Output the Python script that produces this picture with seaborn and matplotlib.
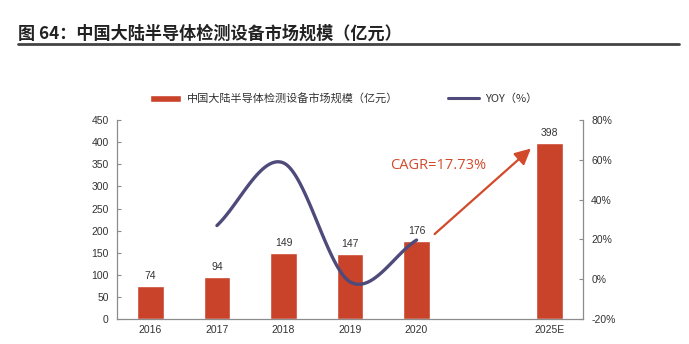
import numpy as np
import pandas as pd
import matplotlib
matplotlib.use("Agg")
import matplotlib.pyplot as plt
import seaborn as sns

# ---- data ----
categories = ["2016", "2017", "2018", "2019", "2020", " ", "2025E"]
bar_years = ["2016", "2017", "2018", "2019", "2020", "2025E"]
market_size = [74, 94, 149, 147, 176, 398]
yoy_years = ["2017", "2018", "2019", "2020"]
yoy_pct = [27.0, 58.5, -1.3, 19.7]
left_ticks = [0, 50, 100, 150, 200, 250, 300, 350, 400, 450]
right_ticks = [-20, 0, 20, 40, 60, 80]
title_text = "图 64：中国大陆半导体检测设备市场规模（亿元）"
bar_label = "中国大陆半导体检测设备市场规模（亿元）"
line_label = "YOY（%）"
cagr_text = "CAGR=17.73%"

BAR_C = "#C9432A"
LINE_C = "#4E4A7A"
TXT_C = "#333333"
AX_C = "#8C8C8C"

sns.set_theme(style="white")
plt.rcParams["font.family"] = ["Noto Sans CJK SC", "DejaVu Sans"]

fig = plt.figure(figsize=(6.89, 3.44), dpi=100)
ax = fig.add_axes([0.170, 0.0727, 0.676, 0.578])

df = pd.DataFrame({"year": bar_years, "value": market_size})
sns.barplot(data=df, x="year", y="value", order=categories, color=BAR_C,
            width=0.4, saturation=1, ax=ax)
ax.set_xlim(-0.5, len(categories) - 0.5)
ax.set_ylim(0, 450)
ax.set_yticks(left_ticks)
ax.set_yticklabels([str(t) for t in left_ticks], fontsize=7.5, color=TXT_C,
                   family=["Liberation Sans"])
ax.set_xticks(range(len(categories)))
ax.set_xticklabels([c.strip() for c in categories], fontsize=7.5, color=TXT_C,
                   family=["Liberation Sans"])
ax.set_xticks(np.arange(0.5, len(categories) - 0.5, 1), minor=True)
ax.tick_params(axis="x", which="major", length=0, pad=4)
ax.tick_params(axis="x", which="minor", direction="in", length=3, color=AX_C, width=0.8)
ax.tick_params(axis="y", direction="in", length=3, color=AX_C, width=0.8, pad=6)
ax.set_xlabel("")
ax.set_ylabel("")
for s in ["top", "right"]:
    ax.spines[s].set_visible(False)
for s in ["left", "bottom"]:
    ax.spines[s].set_color(AX_C)
    ax.spines[s].set_linewidth(0.9)

# bar value labels
for yr, v in zip(bar_years, market_size):
    i = categories.index(yr)
    ax.text(i, v + 12, str(v), ha="center", va="bottom", fontsize=7.5,
            color=TXT_C, family=["Liberation Sans"])

# ---- YOY line on right axis (smoothed rendering) ----
ax2 = ax.twinx()
xs = np.array([categories.index(y) for y in yoy_years], dtype=float)
ys = np.array(yoy_pct, dtype=float)

def catmull_rom(px, py, n=40):
    P = np.column_stack([px, py])
    P = np.vstack([2 * P[0] - P[1], P, 2 * P[-1] - P[-2]])
    out = []
    for k in range(1, len(P) - 2):
        p0, p1, p2, p3 = P[k - 1], P[k], P[k + 1], P[k + 2]
        t = np.linspace(0, 1, n)[:, None]
        seg = 0.5 * ((2 * p1) + (-p0 + p2) * t + (2 * p0 - 5 * p1 + 4 * p2 - p3) * t ** 2
                     + (-p0 + 3 * p1 - 3 * p2 + p3) * t ** 3)
        out.append(seg if k == 1 else seg[1:])
    out = np.vstack(out)
    return out[:, 0], out[:, 1]

sx, sy = catmull_rom(xs, ys)
sns.lineplot(x=sx, y=sy, color=LINE_C, linewidth=2.4, sort=False, ax=ax2)
ax2.set_ylim(-20, 80)
ax2.set_yticks(right_ticks)
ax2.set_yticklabels([f"{t}%" for t in right_ticks], fontsize=7.5, color=TXT_C,
                    family=["Liberation Sans"])
ax2.tick_params(axis="y", direction="in", length=3, color=AX_C, width=0.8, pad=6)
for s in ["top", "left", "bottom"]:
    ax2.spines[s].set_visible(False)
ax2.spines["right"].set_color(AX_C)
ax2.spines["right"].set_linewidth(0.9)
ax2.set_ylabel("")
ax2.set_xlim(-0.5, len(categories) - 0.5)

# CAGR arrow and text
ax.annotate("", xy=(5.75, 390), xytext=(4.24, 188),
            arrowprops=dict(arrowstyle="-|>,head_length=0.8,head_width=0.4",
                            color="#D24A2C", lw=1.6))
ax.text(3.6, 348, cagr_text, fontsize=10.5, color="#D24A2C",
        family=["Open Sans", "DejaVu Sans"], ha="left", va="center")

# legend
from matplotlib.patches import Patch
from matplotlib.lines import Line2D
handles = [Patch(facecolor=BAR_C, label=bar_label),
           Line2D([0], [0], color=LINE_C, lw=2.2, label=line_label)]
leg = fig.legend(handles=handles, loc="center", bbox_to_anchor=(0.499, 0.713),
                 ncol=2, frameon=False, fontsize=8, handlelength=2.8,
                 handleheight=0.6, columnspacing=4.5, handletextpad=0.5)
for t in leg.get_texts():
    t.set_color(TXT_C)

# title and rule
fig.text(0.026, 0.902, title_text, fontsize=12.3, fontweight="bold", color="#222222",
         ha="left", va="center")
fig.add_artist(plt.Line2D([0.026, 0.985], [0.872, 0.872], color="#444444", lw=2,
                          transform=fig.transFigure))

fig.savefig("out.png", dpi=100)
